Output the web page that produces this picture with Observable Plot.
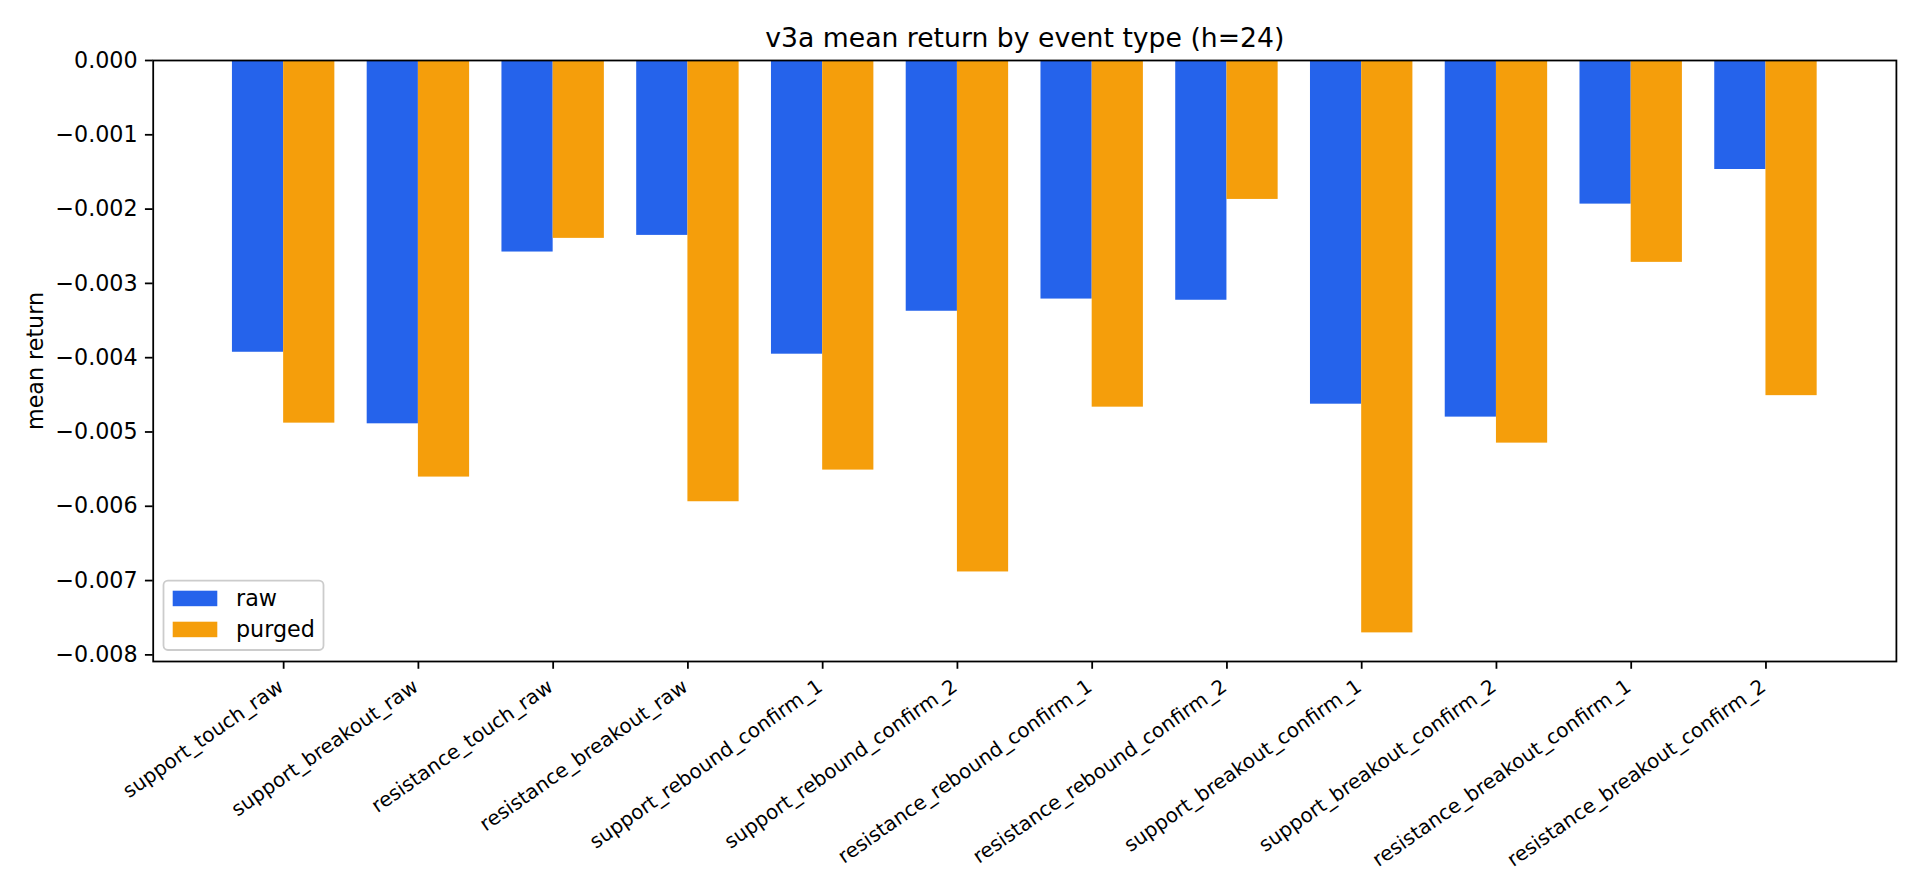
<!DOCTYPE html>
<html>
<head>
<meta charset="utf-8">
<script src="https://cdn.jsdelivr.net/npm/d3@7"></script>
<script src="https://cdn.jsdelivr.net/npm/@observablehq/plot@0.6"></script>
<style>
  html, body { margin: 0; padding: 0; background: #ffffff; }
  svg { display: block; }
</style>
</head>
<body>
<div id="chart"></div>
<script>
// ---- data ----
const titleText = "v3a mean return by event type (h=24)";
const yLabel = "mean return";
const categories = [
  "support_touch_raw", "support_breakout_raw", "resistance_touch_raw", "resistance_breakout_raw",
  "support_rebound_confirm_1", "support_rebound_confirm_2", "resistance_rebound_confirm_1", "resistance_rebound_confirm_2",
  "support_breakout_confirm_1", "support_breakout_confirm_2", "resistance_breakout_confirm_1", "resistance_breakout_confirm_2"
];
const series = ["raw", "purged"];
const colors = ["#2563eb", "#f59e0b"];
const rawValues = [-0.003927, -0.004890, -0.002578, -0.002354, -0.003953, -0.003375, -0.003211, -0.003227, -0.004626, -0.004800, -0.001933, -0.001467];
const purgedValues = [-0.004881, -0.005607, -0.002394, -0.005939, -0.005513, -0.006884, -0.004666, -0.001870, -0.007704, -0.005150, -0.002717, -0.004511];
const yTicks = [0, -0.001, -0.002, -0.003, -0.004, -0.005, -0.006, -0.007, -0.008];

// ---- layout (matplotlib-like grouped bars) ----
const barWidth = 0.38;
const n = categories.length;
const table = [];
categories.forEach((c, i) => {
  table.push({category: c, index: i, series: "raw", value: rawValues[i], x1: i - barWidth, x2: i});
  table.push({category: c, index: i, series: "purged", value: purgedValues[i], x1: i, x2: i + barWidth});
});
const xSpan = (n - 1) + 2 * barWidth;
const xDomain = [-barWidth - 0.05 * xSpan, (n - 1) + barWidth + 0.05 * xSpan];
const allVals = rawValues.concat(purgedValues);
const yDomain = [d3.min(allVals) * 1.05, 0];

const FS = 22.22;    // 10pt @160dpi
const LW = 1.78;     // 0.8pt
const TK = 7.78;     // 3.5pt
const plot = Plot.plot({
  width: 1920,
  height: 896,
  marginLeft: 152.7,
  marginRight: 24.1,
  marginTop: 60,
  marginBottom: 235,
  style: {fontFamily: "'DejaVu Sans', sans-serif", fontSize: FS + "px", color: "#000", background: "#fff", overflow: "visible"},
  x: {type: "linear", domain: xDomain},
  y: {type: "linear", domain: yDomain},
  color: {domain: series, range: colors},
  marks: [
    Plot.rect(table, {x1: "x1", x2: "x2", y1: () => 0, y2: "value", fill: "series"}),
    Plot.frame({stroke: "#000", strokeWidth: LW}),
    Plot.axisY(yTicks, {anchor: "left", tickFormat: d3.format(".3f"), tickSize: TK, tickPadding: TK, fontSize: FS, strokeWidth: LW, label: null}),
    Plot.axisX(d3.range(n), {anchor: "bottom", tickSize: TK, tickFormat: () => "", strokeWidth: LW, label: null}),
    Plot.text(categories, {x: (d, i) => i, text: d => d, frameAnchor: "bottom", rotate: -35, textAnchor: "end", lineAnchor: "top", dx: -7, dy: 16.4, fontSize: 20}),
    Plot.text([titleText], {text: d => d, frameAnchor: "top", lineAnchor: "bottom", dy: -13.3, fontSize: 26.67}),
    Plot.text([yLabel], {text: d => d, frameAnchor: "left", rotate: -90, textAnchor: "middle", lineAnchor: "bottom", dx: -110.7, fontSize: FS})
  ]
});
document.getElementById("chart").appendChild(plot);

// ---- legend (matplotlib style, lower left inside axes) ----
const svg = d3.select(plot);
const lg = svg.append("g")
  .attr("font-family", "'DejaVu Sans', sans-serif")
  .attr("font-size", FS)
  .attr("text-anchor", "start");
lg.append("rect")
  .attr("x", 163.5).attr("y", 580.7).attr("width", 160).attr("height", 69.3)
  .attr("rx", 4.4).attr("ry", 4.4)
  .attr("fill", "#ffffff").attr("fill-opacity", 0.8)
  .attr("stroke", "#cccccc").attr("stroke-width", LW);
series.forEach((s, k) => {
  lg.append("rect")
    .attr("x", 172.7).attr("y", 590.7 + k * 31).attr("width", 44.6).attr("height", 15.5)
    .attr("fill", colors[k]);
  lg.append("text")
    .attr("x", 236).attr("y", 605.8 + k * 31)
    .attr("fill", "#000")
    .attr("text-anchor", "start")
    .text(s);
});
</script>
</body>
</html>
